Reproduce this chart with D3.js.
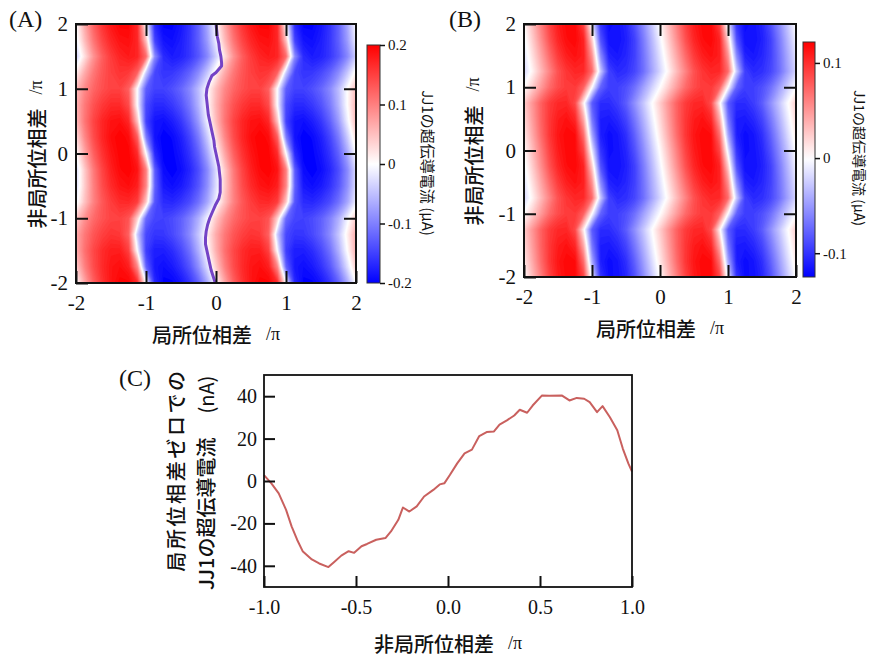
<!DOCTYPE html>
<html>
<head>
<meta charset="utf-8">
<script src="https://cdn.jsdelivr.net/npm/d3@7"></script>
<style>
  body { margin: 0; background: #fff; }
</style>
</head>
<body>
<svg id="fig" width="869" height="656"></svg>
<script>
////////////////////////////// DATA //////////////////////////////

// grid of the two maps (local / nonlocal phase, in units of pi)
const phiLocal = [-2, -1.875, -1.75, -1.625, -1.5, -1.375, -1.25, -1.125, -1, -0.875, -0.75, -0.625, -0.5, -0.375, -0.25, -0.125,
  0, 0.125, 0.25, 0.375, 0.5, 0.625, 0.75, 0.875, 1, 1.125, 1.25, 1.375, 1.5, 1.625, 1.75, 1.875, 2];
const phiNonlocal = [2, 1.75, 1.5, 1.25, 1, 0.75, 0.5, 0.25, 0, -0.25, -0.5, -0.75, -1, -1.25, -1.5, -1.75, -2];

// (A) measured JJ1 supercurrent, nA, one row per nonlocal phase (top row = +2)
const currentA = [
  [0,69,124,160,184,198,198,168,0,-168,-198,-198,-184,-160,-124,-69,0,69,124,160,184,198,198,168,0,-168,-198,-198,-184,-160,-124,-69,0],
  [-13,53,108,146,171,186,189,171,48,-148,-185,-190,-178,-158,-125,-78,-13,53,108,146,171,186,189,171,48,-148,-185,-190,-178,-158,-125,-78,-13],
  [-38,25,84,126,154,172,180,173,115,-90,-167,-180,-174,-158,-132,-94,-38,25,84,126,154,172,180,173,115,-90,-167,-180,-174,-158,-132,-94,-38],
  [11,66,106,133,150,160,156,125,-40,-144,-159,-157,-144,-123,-91,-45,11,66,106,133,150,160,156,125,-40,-144,-159,-157,-144,-123,-91,-45,11],
  [52,93,120,138,149,149,126,0,-126,-149,-149,-138,-120,-93,-52,0,52,93,120,138,149,149,126,0,-126,-149,-149,-138,-120,-93,-52,0,52],
  [59,105,136,156,168,168,143,0,-143,-168,-168,-156,-136,-105,-59,0,59,105,136,156,168,168,143,0,-143,-168,-168,-156,-136,-105,-59,0,59],
  [53,108,146,171,186,189,171,48,-148,-185,-190,-178,-158,-125,-78,-13,53,108,146,171,186,189,171,48,-148,-185,-190,-178,-158,-125,-78,-13,53],
  [28,93,140,171,191,200,192,128,-100,-186,-200,-194,-176,-147,-104,-42,28,93,140,171,191,200,192,128,-100,-186,-200,-194,-176,-147,-104,-42,28],
  [0,69,124,160,184,198,198,168,0,-168,-198,-198,-184,-160,-124,-69,0,69,124,160,184,198,198,168,0,-168,-198,-198,-184,-160,-124,-69,0],
  [-28,42,104,147,176,194,200,186,100,-128,-192,-200,-191,-171,-140,-93,-28,42,104,147,176,194,200,186,100,-128,-192,-200,-191,-171,-140,-93,-28],
  [-27,40,99,140,167,184,190,177,95,-122,-182,-190,-181,-162,-133,-88,-27,40,99,140,167,184,190,177,95,-122,-182,-190,-181,-162,-133,-88,-27],
  [-12,48,97,131,153,167,169,153,43,-133,-166,-170,-159,-141,-112,-70,-12,48,97,131,153,167,169,153,43,-133,-166,-170,-159,-141,-112,-70,-12],
  [42,86,116,135,147,149,135,38,-117,-146,-150,-141,-125,-99,-62,-11,42,86,116,135,147,149,135,38,-117,-146,-150,-141,-125,-99,-62,-11,42],
  [66,106,133,150,160,156,125,-40,-144,-159,-157,-144,-123,-91,-45,11,66,106,133,150,160,156,125,-40,-144,-159,-157,-144,-123,-91,-45,11,66],
  [62,112,144,166,178,178,151,0,-151,-178,-178,-166,-144,-112,-62,0,62,112,144,166,178,178,151,0,-151,-178,-178,-166,-144,-112,-62,0,62],
  [40,99,140,167,184,190,177,95,-122,-182,-190,-181,-162,-133,-88,-27,40,99,140,167,184,190,177,95,-122,-182,-190,-181,-162,-133,-88,-27,40],
  [0,69,124,160,184,198,198,168,0,-168,-198,-198,-184,-160,-124,-69,0,69,124,160,184,198,198,168,0,-168,-198,-198,-184,-160,-124,-69,0]
];

// (B) calculated JJ1 supercurrent, nA
const currentB = [
  [2,32,62,90,109,118,118,90,-10,-99,-119,-117,-107,-86,-58,-28,2,32,62,90,109,118,118,90,-10,-99,-119,-117,-107,-86,-58,-28,2],
  [-6,24,54,83,104,116,119,106,24,-84,-117,-118,-110,-94,-66,-36,-6,24,54,83,104,116,119,106,24,-84,-117,-118,-110,-94,-66,-36,-6],
  [-14,15,43,71,94,108,114,108,52,-56,-109,-114,-107,-94,-70,-42,-14,15,43,71,94,108,114,108,52,-56,-109,-114,-107,-94,-70,-42,-14],
  [-20,6,33,59,83,97,104,103,71,-25,-94,-105,-102,-91,-72,-46,-20,6,33,59,83,97,104,103,71,-25,-94,-105,-102,-91,-72,-46,-20],
  [0,24,48,71,86,94,95,76,0,-76,-95,-94,-86,-71,-48,-24,0,24,48,71,86,94,95,76,0,-76,-95,-94,-86,-71,-48,-24,0],
  [24,51,76,94,103,104,87,8,-80,-104,-104,-96,-80,-55,-29,-2,24,51,76,94,103,104,87,8,-80,-104,-104,-96,-80,-55,-29,-2,24],
  [18,47,75,96,109,114,104,41,-66,-111,-113,-106,-92,-67,-39,-10,18,47,75,96,109,114,104,41,-66,-111,-113,-106,-92,-67,-39,-10,18],
  [11,41,71,96,112,119,117,70,-43,-110,-120,-115,-102,-78,-49,-19,11,41,71,96,112,119,117,70,-43,-110,-120,-115,-102,-78,-49,-19,11],
  [2,32,62,90,109,118,118,90,-10,-99,-119,-117,-107,-86,-58,-28,2,32,62,90,109,118,118,90,-10,-99,-119,-117,-107,-86,-58,-28,2],
  [-6,24,54,83,104,116,119,106,24,-84,-117,-118,-110,-94,-66,-36,-6,24,54,83,104,116,119,106,24,-84,-117,-118,-110,-94,-66,-36,-6],
  [-14,15,43,71,94,108,114,108,52,-56,-109,-114,-107,-94,-70,-42,-14,15,43,71,94,108,114,108,52,-56,-109,-114,-107,-94,-70,-42,-14],
  [-20,6,33,59,83,97,104,103,71,-25,-94,-105,-102,-91,-72,-46,-20,6,33,59,83,97,104,103,71,-25,-94,-105,-102,-91,-72,-46,-20],
  [0,24,48,71,86,94,95,76,0,-76,-95,-94,-86,-71,-48,-24,0,24,48,71,86,94,95,76,0,-76,-95,-94,-86,-71,-48,-24,0],
  [24,51,76,94,103,104,87,8,-80,-104,-104,-96,-80,-55,-29,-2,24,51,76,94,103,104,87,8,-80,-104,-104,-96,-80,-55,-29,-2,24],
  [18,47,75,96,109,114,104,41,-66,-111,-113,-106,-92,-67,-39,-10,18,47,75,96,109,114,104,41,-66,-111,-113,-106,-92,-67,-39,-10,18],
  [11,41,71,96,112,119,117,70,-43,-110,-120,-115,-102,-78,-49,-19,11,41,71,96,112,119,117,70,-43,-110,-120,-115,-102,-78,-49,-19,11],
  [2,32,62,90,109,118,118,90,-10,-99,-119,-117,-107,-86,-58,-28,2,32,62,90,109,118,118,90,-10,-99,-119,-117,-107,-86,-58,-28,2]
];

// (A) purple line: local phase where JJ1 current is zero
const zeroLineNonlocal = [2, 1.9, 1.8, 1.7, 1.6, 1.5, 1.4, 1.35, 1.3, 1.25, 1.2, 1.1, 1, 0.9, 0.8, 0.7, 0.6, 0.5, 0.4, 0.3, 0.2, 0.1, 0,
  -0.1, -0.2, -0.3, -0.4, -0.5, -0.6, -0.7, -0.8, -0.9, -1, -1.1, -1.2, -1.3, -1.4, -1.5, -1.6, -1.7, -1.8, -1.9, -2];
const zeroLineLocal = [0, 0.01, 0.02, 0.04, 0.05, 0.07, 0.08, 0.08, 0.04, 0, -0.06, -0.1, -0.13, -0.14, -0.13, -0.12, -0.11, -0.09, -0.07, -0.05, -0.03, -0.02, 0,
  0.02, 0.04, 0.05, 0.06, 0.06, 0.06, 0.04, -0.01, -0.05, -0.09, -0.12, -0.14, -0.15, -0.15, -0.13, -0.11, -0.09, -0.07, -0.04, -0.01];

// (C) JJ1 supercurrent at zero local phase vs nonlocal phase
const cutNonlocal = [-1, -0.96, -0.92, -0.88, -0.85, -0.82, -0.79, -0.74, -0.7, -0.65, -0.62, -0.58, -0.54, -0.51, -0.47, -0.44, -0.39, -0.34,
  -0.31, -0.27, -0.245, -0.21, -0.17, -0.13, -0.08, -0.045, -0.02, 0.01, 0.05, 0.09, 0.13, 0.17, 0.21, 0.25, 0.28, 0.32, 0.36, 0.39,
  0.43, 0.46, 0.51, 0.55, 0.62, 0.66, 0.7, 0.74, 0.77, 0.81, 0.84, 0.88, 0.92, 0.95, 0.98, 1];
const cutCurrent = [2.8, -1.1, -5.8, -13.6, -21.4, -27.7, -33.1, -37, -38.9, -40.6, -38.3, -35.2, -33.1, -33.9, -30.8, -29.7, -27.7, -26.9,
  -23.8, -18.3, -12.5, -14.4, -12, -7.3, -4.2, -1.6, -1.1, 2.8, 8.3, 13, 14.8, 21.2, 23.1, 23.4, 26.6, 28.6, 30.9, 33.6,
  32.2, 35.6, 40.3, 40.2, 40.3, 38, 39.2, 38.8, 37.2, 32.5, 35.3, 30.1, 23.9, 15.3, 8.3, 4.4];

// ticks
const phaseTicks = [-2, -1, 0, 1, 2];
const innerPhaseTicks = [-1, 0, 1];
const cbTicksA = [-0.2, -0.1, 0, 0.1, 0.2];
const cbTicksB = [-0.1, 0, 0.1];
const cutTicksX = [-1, -0.5, 0, 0.5, 1];
const cutTicksY = [-40, -20, 0, 20, 40];

////////////////////////////// DRAW //////////////////////////////

const SERIF = '"Liberation Serif", "Times New Roman", serif';
const JP = '"Noto Sans CJK JP", "Noto Sans", sans-serif';

const svg = d3.select('#fig');
svg.append('rect').attr('width', 869).attr('height', 656).attr('fill', '#fff');

const numFmt = d => String(d);

function styleAxis(g, size) {
  g.select('.domain').remove();
  g.attr('font-family', null).attr('font-size', null).attr('color', '#111');
  g.selectAll('line').attr('stroke-width', 2);
  g.selectAll('text')
    .style('font-family', SERIF)
    .style('font-size', size + 'px')
    .style('fill', '#111');
}

function jpText(g, size) {
  return g.append('text')
    .style('font-family', JP)
    .style('font-size', size + 'px')
    .style('font-weight', 500)
    .style('fill', '#111');
}

function phaseLabel(g, text, x, y, rotate) {
  const t = jpText(g, 20)
    .attr('transform', `translate(${x},${y})` + (rotate ? ' rotate(-90)' : ''))
    .attr('text-anchor', 'middle')
    .attr('dominant-baseline', 'central')
    .text(text);
  t.append('tspan').attr('dx', 14)
    .style('font-family', SERIF).style('font-size', '18px').style('font-weight', 400)
    .text('/π');
}

// one map panel: contour bands of the grid, frame, ticks, colorbar
function mapPanel(o) {
  const x = d3.scaleLinear().domain([-2, 2]).range([o.left, o.right]);
  const y = d3.scaleLinear().domain([-2, 2]).range([o.bottom, o.top]);
  const color = d3.scaleLinear().domain([o.lo, 0, o.hi]).range(['#0000ff', '#ffffff', '#ff0000']).clamp(true);
  const g = svg.append('g');

  g.append('clipPath').attr('id', o.id)
    .append('rect').attr('x', o.left).attr('y', o.top)
    .attr('width', o.right - o.left).attr('height', o.bottom - o.top);

  const n = phiLocal.length, m = phiNonlocal.length;
  const dxs = phiLocal[1] - phiLocal[0], dys = phiNonlocal[1] - phiNonlocal[0];
  const toScreen = d3.geoTransform({
    point(px, py) {
      this.stream.point(x(phiLocal[0] + (px - 0.5) * dxs), y(phiNonlocal[0] + (py - 0.5) * dys));
    }
  });
  const path = d3.geoPath(toScreen);
  const values = o.rows.flat().map(v => v / 1000);
  const step = o.step;
  const thresholds = [-1].concat(d3.range(o.lo + step, o.hi - step / 2, step));
  const bands = d3.contours().size([n, m]).thresholds(thresholds)(values);

  g.append('g').attr('clip-path', `url(#${o.id})`)
    .selectAll('path').data(bands).join('path')
    .attr('d', path)
    .attr('fill', d => color(d.value < -0.5 ? o.lo : d.value + step / 2));

  if (o.overlay) o.overlay(g, x, y);

  g.append('rect').attr('x', o.left).attr('y', o.top)
    .attr('width', o.right - o.left).attr('height', o.bottom - o.top)
    .attr('fill', 'none').attr('stroke', '#111').attr('stroke-width', 2);

  g.append('g').attr('transform', `translate(${o.left},0)`)
    .call(d3.axisLeft(y).tickValues(phaseTicks).tickSizeInner(-12).tickSizeOuter(0).tickPadding(8).tickFormat(numFmt))
    .call(s => styleAxis(s, 21));
  g.append('g').attr('transform', `translate(${o.right},0)`)
    .call(d3.axisRight(y).tickValues(innerPhaseTicks).tickSizeInner(-12).tickSizeOuter(0).tickFormat(''))
    .call(s => styleAxis(s, 21));
  g.append('g').attr('transform', `translate(0,${o.bottom})`)
    .call(d3.axisBottom(x).tickValues(phaseTicks).tickSizeInner(-12).tickSizeOuter(0).tickPadding(12).tickFormat(numFmt))
    .call(s => styleAxis(s, 21));
  g.append('g').attr('transform', `translate(0,${o.top})`)
    .call(d3.axisTop(x).tickValues(innerPhaseTicks).tickSizeInner(-12).tickSizeOuter(0).tickFormat(''))
    .call(s => styleAxis(s, 21));

  // colorbar
  const cb = d3.scaleLinear().domain([o.lo, o.hi]).range([o.cbBottom, o.cbTop]);
  const grad = svg.append('defs').append('linearGradient').attr('id', o.id + 'grad')
    .attr('x1', 0).attr('y1', 1).attr('x2', 0).attr('y2', 0);
  d3.range(0, 1.0001, 0.05).forEach(t => {
    grad.append('stop').attr('offset', t).attr('stop-color', color(o.lo + t * (o.hi - o.lo)));
  });
  g.append('rect').attr('x', o.cbLeft).attr('y', o.cbTop)
    .attr('width', o.cbWidth).attr('height', o.cbBottom - o.cbTop)
    .attr('fill', `url(#${o.id}grad)`).attr('stroke', '#333').attr('stroke-width', 1);
  g.append('g').attr('transform', `translate(${o.cbLeft + o.cbWidth},0)`)
    .call(d3.axisRight(cb).tickValues(o.cbTicks).tickSize(5).tickPadding(3).tickFormat(numFmt))
    .call(s => styleAxis(s, 15))
    .call(s => s.selectAll('line').attr('stroke-width', 1.5));

  jpText(g, o.cbTitleSize)
    .style('font-weight', 400)
    .attr('transform', `translate(${o.cbTitleX},${o.cbTitleY}) rotate(90)`)
    .attr('text-anchor', 'middle').attr('dominant-baseline', 'central')
    .text('JJ1の超伝導電流 (μA)');

  phaseLabel(g, '局所位相差', (o.left + o.right) / 2, o.xLabelY, false);
  phaseLabel(g, '非局所位相差', o.yLabelX, (o.top + o.bottom) / 2 + 1, true);

  g.append('text').attr('x', o.tagX).attr('y', o.tagY)
    .style('font-family', SERIF).style('font-size', '24px').style('fill', '#111')
    .text(o.tag);
}

mapPanel({
  id: 'mapA', tag: '(A)', tagX: 9, tagY: 27,
  left: 76, right: 356, top: 24, bottom: 283,
  rows: currentA, lo: -0.2, hi: 0.2, step: 0.005,
  cbLeft: 367, cbWidth: 13, cbTop: 45, cbBottom: 283, cbTicks: cbTicksA,
  cbTitleX: 428, cbTitleY: 163, cbTitleSize: 15, xLabelY: 334, yLabelX: 36,
  overlay: (g, x, y) => {
    const line = d3.line().x((d, i) => x(zeroLineLocal[i])).y(d => y(d));
    g.append('path').datum(zeroLineNonlocal)
      .attr('clip-path', 'url(#mapA)')
      .attr('d', line).attr('fill', 'none')
      .attr('stroke', '#7443c6').attr('stroke-width', 3).attr('stroke-linejoin', 'round');
  }
});

mapPanel({
  id: 'mapB', tag: '(B)', tagX: 449, tagY: 27,
  left: 524, right: 796, top: 24, bottom: 277,
  rows: currentB, lo: -0.125, hi: 0.122, step: 0.0035,
  cbLeft: 803, cbWidth: 12, cbTop: 42, cbBottom: 277, cbTicks: cbTicksB,
  cbTitleX: 860, cbTitleY: 158, cbTitleSize: 14, xLabelY: 328, yLabelX: 473
});

// (C) line chart
{
  const left = 264, right = 632, top = 375, bottom = 587;
  const x = d3.scaleLinear().domain([-1, 1]).range([left, right]);
  const y = d3.scaleLinear().domain([-50, 50]).range([bottom, top]);
  const g = svg.append('g');

  g.append('path').datum(cutCurrent)
    .attr('d', d3.line().x((d, i) => x(cutNonlocal[i])).y(d => y(d)))
    .attr('fill', 'none').attr('stroke', '#c9605e').attr('stroke-width', 2).attr('stroke-linejoin', 'round');

  g.append('rect').attr('x', left).attr('y', top).attr('width', right - left).attr('height', bottom - top)
    .attr('fill', 'none').attr('stroke', '#111').attr('stroke-width', 1.8);

  g.append('g').attr('transform', `translate(${left},0)`)
    .call(d3.axisLeft(y).tickValues(cutTicksY).tickSizeInner(-11).tickSizeOuter(0).tickPadding(7).tickFormat(numFmt))
    .call(s => styleAxis(s, 20));
  g.append('g').attr('transform', `translate(0,${bottom})`)
    .call(d3.axisBottom(x).tickValues(cutTicksX).tickSizeInner(-11).tickSizeOuter(0).tickPadding(13).tickFormat(d => d.toFixed(1)))
    .call(s => styleAxis(s, 20));

  phaseLabel(g, '非局所位相差', (left + right) / 2, 643, false);

  jpText(g, 20)
    .attr('transform', 'translate(175,470) rotate(-90)')
    .attr('text-anchor', 'middle').attr('dominant-baseline', 'central')
    .style('letter-spacing', '2.6px')
    .text('局所位相差ゼロでの');
  const l2 = jpText(g, 20)
    .attr('transform', 'translate(205,590) rotate(-90)')
    .attr('text-anchor', 'start').attr('dominant-baseline', 'central')
    .text('JJ1の超伝導電流');
  l2.append('tspan').attr('dx', 24).style('font-weight', 400).text('(nA)');

  g.append('text').attr('x', 119).attr('y', 386)
    .style('font-family', SERIF).style('font-size', '24px').style('fill', '#111')
    .text('(C)');
}
</script>
</body>
</html>
